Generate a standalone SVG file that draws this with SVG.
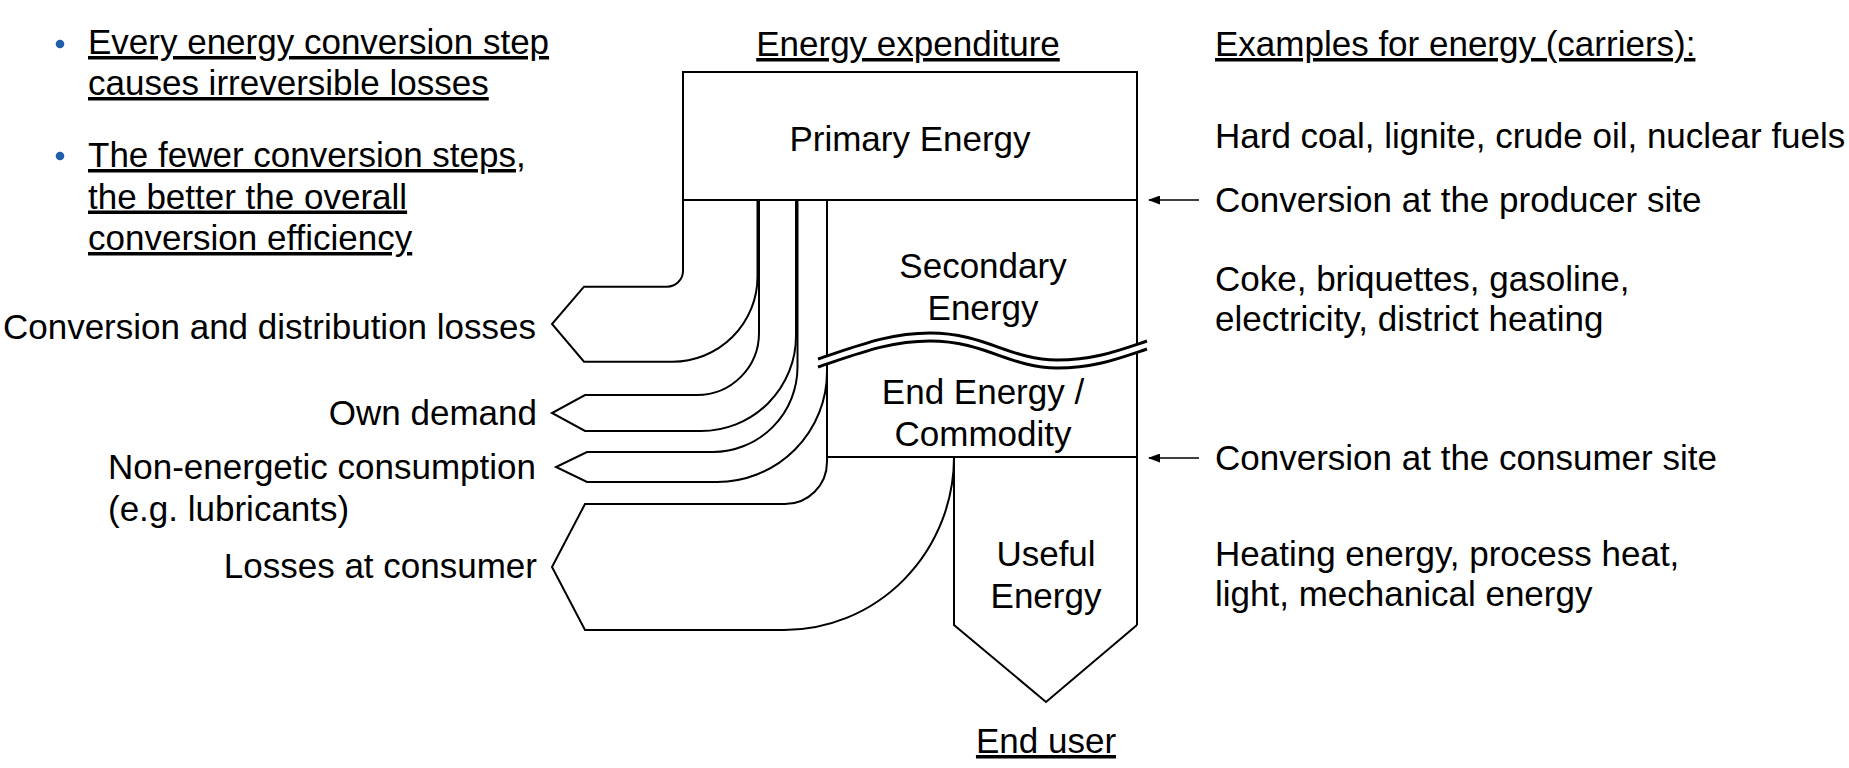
<svg xmlns="http://www.w3.org/2000/svg" width="1849" height="768" viewBox="0 0 1849 768">
  <defs>
    <style>
      text { font-family: "Liberation Sans", Arial, sans-serif; font-size: 35px; fill: #000; }
      .c { text-anchor: middle; }
      .e { text-anchor: end; }
      .u { text-decoration: underline; }
      .ln { fill: none; stroke: #000; stroke-width: 2; stroke-linejoin: miter; }
      .sq { fill: none; stroke: #000; stroke-width: 3; }
      .sqw { fill: none; stroke: #fff; stroke-width: 7; }
      .arr { fill: none; stroke: #000; stroke-width: 1.6; }
      .bul { fill: #1f5ea8; }
    </style>
    <marker id="ah" viewBox="0 0 12 9" refX="11" refY="4.5" markerWidth="12" markerHeight="9" markerUnits="userSpaceOnUse" orient="auto">
      <path d="M0,0 L12,4.5 L0,9 z" fill="#000"/>
    </marker>
  </defs>
  <rect width="1849" height="768" fill="#fff"/>

  <g id="notes">
    <circle class="bul" cx="60" cy="44" r="4.3"/>
    <text class="u" x="88" y="54">Every energy conversion step</text>
    <text class="u" x="88" y="95">causes irreversible losses</text>
    <circle class="bul" cx="60" cy="156" r="4.3"/>
    <text class="u" x="88" y="167">The fewer conversion steps,</text>
    <text class="u" x="88" y="208.5">the better the overall</text>
    <text class="u" x="88" y="250">conversion efficiency</text>
  </g>

  <g id="headings">
    <text class="c u" x="908" y="56">Energy expenditure</text>
    <text class="u" x="1215" y="56">Examples for energy (carriers):</text>
    <text class="c u" x="1046" y="753">End user</text>
  </g>

  <g id="node-primary">
    <path class="ln" d="M683,200 H1137"/>
    <text class="c" x="910" y="151">Primary Energy</text>
  </g>

  <g id="node-loss-conversion">
    <path class="ln" d="M1137,625 V72 H683 V270.7 A16,16 0 0 1 667,286.7 H584 L552,324 L584,361.7 H672.5 A85,85 0 0 0 757.5,276.7 V200"/>
    <text class="e" x="536" y="339">Conversion and distribution losses</text>
  </g>

  <g id="node-own-demand">
    <path class="ln" d="M759,200 V333 A62,62 0 0 1 697,395 H585 L552,413 L585,431 H701 A95,95 0 0 0 796,336 V200"/>
    <text class="e" x="537" y="425">Own demand</text>
  </g>

  <g id="node-non-energetic">
    <path class="ln" d="M797.5,200 V367 A85,85 0 0 1 712.5,452 H587 L556,467 L587,482 H717 A110,110 0 0 0 827,372"/>
    <text class="e" x="536" y="479">Non-energetic consumption</text>
    <text x="108" y="521">(e.g. lubricants)</text>
  </g>

  <g id="node-losses-consumer">
    <path class="ln" d="M827,200 V462 A42,42 0 0 1 785,504 H585 L552,567 L585,630 H784 A170,173 0 0 0 954,457"/>
    <text class="e" x="537" y="578">Losses at consumer</text>
  </g>

  <g id="node-secondary">
    <text class="c" x="983" y="278">Secondary</text>
    <text class="c" x="983" y="320">Energy</text>
  </g>

  <g id="node-end-energy">
    <path class="ln" d="M827,457 H1137"/>
    <text class="c" x="983" y="404">End Energy /</text>
    <text class="c" x="983" y="446">Commodity</text>
  </g>

  <g id="node-useful">
    <path class="ln" d="M954,457 V625 L1046,702 L1137,625"/>
    <text class="c" x="1046" y="566">Useful</text>
    <text class="c" x="1046" y="608">Energy</text>
  </g>

  <g id="break">
    <path class="sqw" d="M818,363 C860,349 890,337 930,337 C985,337 1010,364 1057,364 C1095,364 1120,354 1147,345"/>
    <path class="sq" d="M818,359 C860,345 890,333 930,333 C985,333 1010,360 1057,360 C1095,360 1120,350 1147,341"/>
    <path class="sq" d="M818,367 C860,353 890,341 930,341 C985,341 1010,368 1057,368 C1095,368 1120,358 1147,349"/>
  </g>

  <g id="connectors">
    <path class="arr" d="M1199,200 H1149" marker-end="url(#ah)"/>
    <path class="arr" d="M1199,458 H1149" marker-end="url(#ah)"/>
  </g>

  <g id="examples">
    <text x="1215" y="148">Hard coal, lignite, crude oil, nuclear fuels</text>
    <text x="1215" y="212">Conversion at the producer site</text>
    <text x="1215" y="291">Coke, briquettes, gasoline,</text>
    <text x="1215" y="331">electricity, district heating</text>
    <text x="1215" y="470">Conversion at the consumer site</text>
    <text x="1215" y="566">Heating energy, process heat,</text>
    <text x="1215" y="606">light, mechanical energy</text>
  </g>
</svg>
